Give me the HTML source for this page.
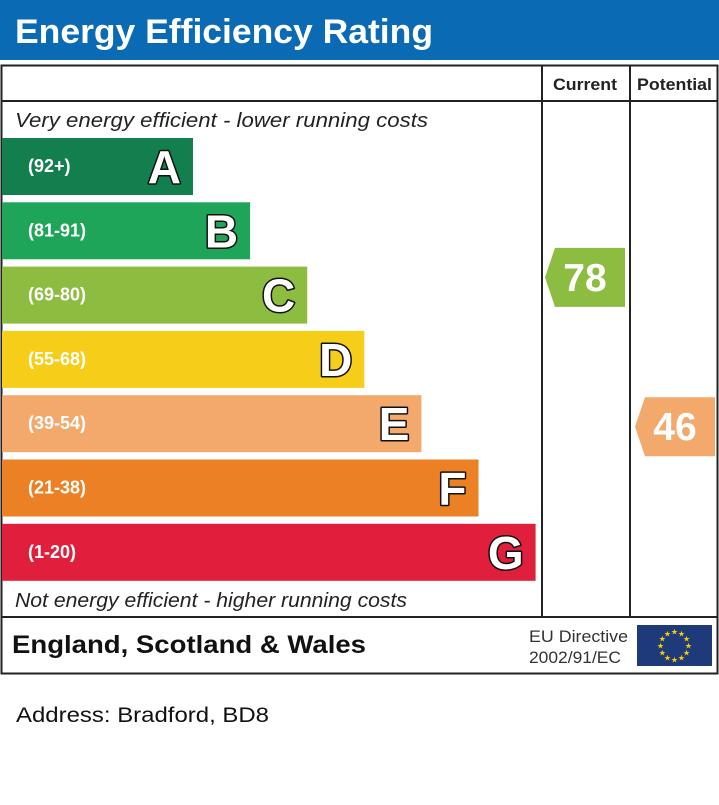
<!DOCTYPE html>
<html><head><meta charset="utf-8"><style>
body{margin:0;background:#fff;width:719px;height:805px;overflow:hidden;font-family:"Liberation Sans",sans-serif}
</style></head><body>
<svg width="719" height="805" id="svg" style="position:absolute;left:0;top:0">
<rect x="0" y="0" width="719" height="60" fill="#0a6ab3"/>
<text x="15" y="43" font-size="34" font-weight="bold" fill="#fff" textLength="418" lengthAdjust="spacingAndGlyphs">Energy Efficiency Rating</text>
<rect x="1.5" y="65.5" width="716" height="608" fill="none" stroke="#222" stroke-width="2"/>
<line x1="1" y1="101" x2="718" y2="101" stroke="#222" stroke-width="2"/>
<line x1="542" y1="65" x2="542" y2="617" stroke="#222" stroke-width="2"/>
<line x1="630" y1="65" x2="630" y2="617" stroke="#222" stroke-width="2"/>
<line x1="1" y1="617" x2="718" y2="617" stroke="#222" stroke-width="2"/>
<text x="553" y="90" font-size="17" font-weight="bold" fill="#222" textLength="64" lengthAdjust="spacingAndGlyphs">Current</text>
<text x="637" y="90" font-size="17" font-weight="bold" fill="#222" textLength="75" lengthAdjust="spacingAndGlyphs">Potential</text>
<text x="15" y="127" font-size="20" font-style="italic" fill="#222" textLength="413" lengthAdjust="spacingAndGlyphs">Very energy efficient - lower running costs</text>
<text x="15" y="607" font-size="20" font-style="italic" fill="#222" textLength="392" lengthAdjust="spacingAndGlyphs">Not energy efficient - higher running costs</text>
<g id="bands"></g>
<g id="arrows"></g>
<text x="12" y="653" font-size="25" font-weight="bold" fill="#111" textLength="354" lengthAdjust="spacingAndGlyphs">England, Scotland &amp; Wales</text>
<text x="529" y="642" font-size="17" fill="#333" textLength="99" lengthAdjust="spacingAndGlyphs">EU Directive</text>
<text x="529" y="663" font-size="17" fill="#333" textLength="92" lengthAdjust="spacingAndGlyphs">2002/91/EC</text>
<rect x="637" y="625" width="75" height="41" fill="#1f3a7a"/>
<g id="stars" fill="#f5d000"></g>
<text x="16" y="722" font-size="21" fill="#111" textLength="253" lengthAdjust="spacingAndGlyphs">Address: Bradford, BD8</text>
</svg>
<script>
const letters=["A","B","C","D","E","F","G"];
const ranges=["(92+)","(81-91)","(69-80)","(55-68)","(39-54)","(21-38)","(1-20)"];
const lows=[92,81,69,55,39,21,1];
const highs=[100,91,80,68,54,38,20];
const colors=["#137f4e","#1fa55a","#8cbc40","#f6cd18","#f3a96c","#ec8025","#e01f3c"];
const currentRating=78;
const potentialRating=46;
const NS="http://www.w3.org/2000/svg";
const top0=138,pitch=64.3,bh=57,w0=191,dw=57.1;
function mk(t,a,p){const e=document.createElementNS(NS,t);for(const k in a)e.setAttribute(k,a[k]);p.appendChild(e);return e;}
const bands=document.getElementById('bands');
letters.forEach((L,i)=>{
 const y=top0+i*pitch, w=w0+i*dw;
 const r=mk('rect',{x:2,y:y,width:w,height:bh,fill:colors[i]},bands);
 
 
 const t=mk('text',{x:28,y:y+34,'font-size':18,'font-weight':'bold',fill:'#fff'},bands);
 t.textContent=ranges[i];
 
 
 const l=mk('text',{x:2+w-12,y:y+45,'font-size':46,'font-weight':'bold',fill:'#fff',stroke:'#111','stroke-width':3,'text-anchor':'end','paint-order':'stroke','stroke-linejoin':'round'},bands);
 l.textContent=L;
 
 
});
function bandOf(v){for(let i=0;i<7;i++)if(v>=lows[i])return i;return 6;}
function arrow(v,x0,name){
 const i=bandOf(v);const mid=(lows[i]+highs[i])/2;
 const y=top0+i*pitch+(mid-v)/(highs[i]-lows[i]+1)*pitch;
 const g=document.getElementById('arrows');
 const h=59,w=80;
 const p=mk('polygon',{points:`${x0},${y+h/2} ${x0+10},${y} ${x0+w},${y} ${x0+w},${y+h} ${x0+10},${y+h}`,fill:colors[i]},g);
 
 
 const t=mk('text',{x:x0+w/2,y:y+43,'font-size':39,'font-weight':'bold',fill:'#fff','text-anchor':'middle'},g);
 t.textContent=v;
 
 
}
arrow(currentRating,545,'current');
arrow(potentialRating,635,'potential');
const sg=document.getElementById('stars');
for(let k=0;k<12;k++){const a=k*Math.PI/6;const c=mk('text',{x:674.5+14*Math.sin(a),y:645.5-14*Math.cos(a)+3,'font-size':8,'text-anchor':'middle'},sg);c.textContent='★';}
</script>
</body></html>
